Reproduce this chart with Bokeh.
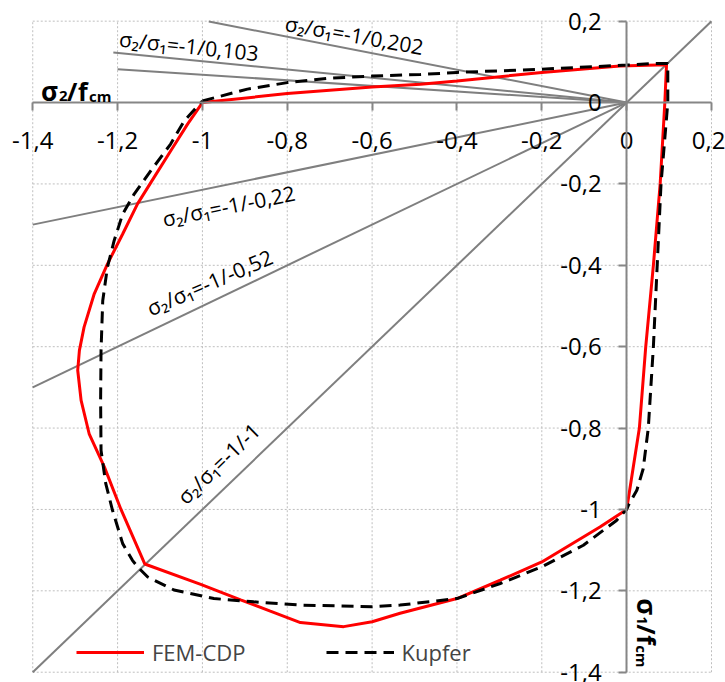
import math
from bokeh.plotting import figure
from bokeh.models import (FixedTicker, Label, Legend, LegendItem, ColumnDataSource)
from bokeh.core.properties import value
from bokeh.embed import file_html
from bokeh.resources import INLINE

# ---------------- data ----------------
tick_values = [-1.4, -1.2, -1.0, -0.8, -0.6, -0.4, -0.2, 0.0, 0.2]
tick_labels = ["-1,4", "-1,2", "-1", "-0,8", "-0,6", "-0,4", "-0,2", "0", "0,2"]

fem_x = [-1.0, -0.8, -0.6, -0.486, -0.4, -0.2, -0.016, 0.094, 0.090, 0.079, 0.063, 0.045,
         0.030, 0.015, 0.0, -0.063, -0.2, -0.298, -0.4, -0.534, -0.6, -0.667, -0.769,
         -0.84, -0.91, -1.004, -1.136, -1.192, -1.231, -1.267, -1.286, -1.294, -1.290,
         -1.279, -1.255, -1.224, -1.188, -1.153, -1.114, -1.075, -1.035, -1.0]
fem_y = [0.0, 0.022, 0.0385, 0.045, 0.053, 0.074, 0.090, 0.093, 0.0, -0.2, -0.4, -0.6,
         -0.8, -0.9, -1.0, -1.043, -1.129, -1.174, -1.219, -1.255, -1.276, -1.288, -1.278,
         -1.250, -1.222, -1.184, -1.134, -1.0, -0.896, -0.814, -0.732, -0.658, -0.609,
         -0.552, -0.470, -0.397, -0.323, -0.249, -0.184, -0.119, -0.053, 0.0]

kup_x = [-1.0, -0.894, -0.8, -0.698, -0.6, -0.486, -0.4, -0.2, 0.0, 0.063, 0.097, 0.097,
         0.081, 0.072, 0.063, 0.051, 0.039, 0.024, 0.004, 0.0, -0.024, -0.102, -0.2,
         -0.298, -0.4, -0.534, -0.6, -0.769, -0.879, -0.973, -1.067, -1.129, -1.153,
         -1.165, -1.188, -1.212, -1.228, -1.239, -1.240, -1.239, -1.235, -1.224, -1.208,
         -1.188, -1.161, -1.122, -1.075, -1.043, -1.0]
kup_y = [0.004, 0.033, 0.049, 0.060, 0.065, 0.069, 0.074, 0.082, 0.092, 0.096, 0.096, 0.0,
         -0.2, -0.4, -0.6, -0.8, -0.9, -0.953, -0.99, -1.0, -1.027, -1.088, -1.141,
         -1.182, -1.219, -1.235, -1.239, -1.235, -1.227, -1.219, -1.198, -1.166, -1.141,
         -1.125, -1.084, -1.002, -0.936, -0.855, -0.732, -0.609, -0.487, -0.405, -0.339,
         -0.274, -0.225, -0.168, -0.102, -0.045, 0.004]

# stress-ratio reference lines
ref_x0 = [-1.4, 0.0, 0.0, 0.0, 0.0, 0.0]
ref_y0 = [-1.4, 0.0, 0.0, 0.0, 0.0, 0.0]
ref_x1 = [0.2, -1.4, -1.4, -1.21, -1.2, -0.985]
ref_y1 = [0.2, -0.70, -0.30, 0.123, 0.082, 0.199]

ratio_text = ["σ₂/σ₁=-1/0,202", "σ₂/σ₁=-1/0,103", "σ₂/σ₁=-1/-0,22",
              "σ₂/σ₁=-1/-0,52", "σ₂/σ₁=-1/-1"]
ratio_tx = [-0.642, -1.032, -0.938, -0.983, -0.962]
ratio_ty = [0.166, 0.139, -0.254, -0.442, -0.887]
ratio_angle = [-0.174, -0.105, 0.199, 0.407, 0.77]

series_names = ["FEM-CDP", "Kupfer"]

FONT = "Open Sans"
GRAY = "#868686"
AX_MIN, AX_MAX = -1.4, 0.2

# the visible ranges leave room outside the gridded box for edge tick labels
p = figure(width=725, height=682, x_range=(-1.476, 0.233), y_range=(-1.4253, 0.2508),
           output_backend="svg", toolbar_location=None,
           min_border_left=0, min_border_right=0, min_border_top=0, min_border_bottom=0)
p.background_fill_color = "white"
p.border_fill_color = "white"
p.outline_line_color = None
p.xgrid.visible = False
p.ygrid.visible = False

# dotted grid limited to the box [-1.4, 0.2] x [-1.4, 0.2]
p.segment(x0=tick_values, y0=[AX_MIN] * len(tick_values),
          x1=tick_values, y1=[AX_MAX] * len(tick_values),
          line_color="#BFBFBF", line_width=1, line_dash="2 2")
p.segment(x0=[AX_MIN] * len(tick_values), y0=tick_values,
          x1=[AX_MAX] * len(tick_values), y1=tick_values,
          line_color="#BFBFBF", line_width=1, line_dash="2 2")

overrides = {v: s for v, s in zip(tick_values, tick_labels)}
for ax in (p.xaxis[0], p.yaxis[0]):
    ax.fixed_location = 0
    ax.bounds = (AX_MIN, AX_MAX)
    ax.ticker = FixedTicker(ticks=tick_values)
    ax.major_label_overrides = overrides
    ax.axis_line_color = GRAY
    ax.axis_line_width = 2
    ax.major_tick_line_color = GRAY
    ax.major_tick_line_width = 2
    ax.major_tick_in = 0
    ax.major_tick_out = 8
    ax.minor_tick_line_color = None
    ax.major_label_text_font = FONT
    ax.major_label_text_font_size = "24px"
    ax.major_label_text_color = "black"
p.xaxis[0].major_label_standoff = 21
p.yaxis[0].major_label_standoff = 17

# reference lines
p.segment(x0=ref_x0, y0=ref_y0, x1=ref_x1, y1=ref_y1, line_color="#7F7F7F", line_width=2)

src = ColumnDataSource(dict(x=ratio_tx, y=ratio_ty, text=ratio_text, angle=ratio_angle))
p.text(x="x", y="y", text="text", angle="angle", source=src,
       text_font=value(FONT), text_font_size="21px", text_color="black",
       text_align="center", text_baseline="middle")

r_fem = p.line(fem_x, fem_y, line_color="#FF0000", line_width=3)
r_kup = p.line(kup_x, kup_y, line_color="black", line_width=3, line_dash="12 7")

legend = Legend(items=[LegendItem(label=series_names[0], renderers=[r_fem]),
                       LegendItem(label=series_names[1], renderers=[r_kup])],
                orientation="horizontal", location=(76, 15),
                glyph_width=68, glyph_height=20, label_standoff=8, spacing=80,
                padding=0, margin=0, border_line_color=None,
                background_fill_alpha=0,
                label_text_font=FONT, label_text_font_size="22px")
p.add_layout(legend)


def piece(x, y, text, size, dx=0, dy=0, angle=0.0):
    p.add_layout(Label(x=x, y=y, text=text, x_offset=dx, y_offset=dy, angle=angle,
                       text_font=FONT, text_font_style="bold", text_font_size=size,
                       text_color="black", text_baseline="alphabetic", text_align="left"))


# horizontal axis title  σ2/fcm
hx, hy = -1.3805, 0.0287
piece(hx, hy, "σ", "26px", 0, 0)
piece(hx, hy, "2", "15px", 18, -5)
piece(hx, hy, "/", "25px", 26, 0)
piece(hx, hy, "f", "25px", 37, 0)
piece(hx, hy, "cm", "15px", 48, -5)

# vertical axis title  σ1/fcm (rotated clockwise)
vx, vy = 0.0478, -1.218
a = -math.pi / 2
piece(vx, vy, "σ", "26px", 0, 0, a)
piece(vx, vy, "1", "15px", -5, -18, a)
piece(vx, vy, "/", "25px", 0, -26, a)
piece(vx, vy, "f", "25px", 0, -37, a)
piece(vx, vy, "cm", "15px", -5, -47, a)

open("out.html", "w").write(file_html(p, INLINE))
